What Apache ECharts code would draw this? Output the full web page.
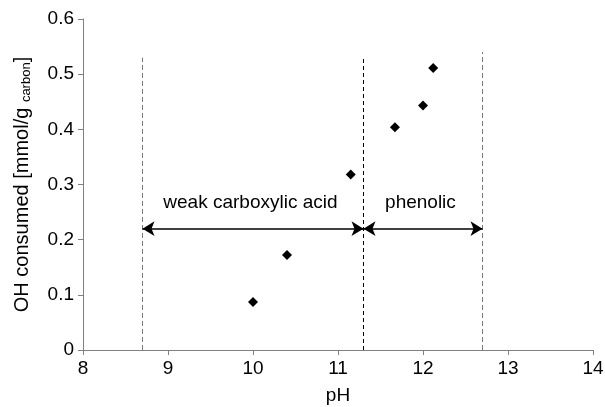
<!DOCTYPE html>
<html>
<head>
<meta charset="utf-8">
<script src="https://cdn.jsdelivr.net/npm/echarts@6/dist/echarts.min.js"></script>
<style>
  html, body { margin: 0; padding: 0; background: #fff; }
  #chart { width: 605px; height: 407px; }
</style>
</head>
<body>
<div id="chart"></div>
<script>
// measured points (pH, OH consumed)
const phValues = [10.0, 10.4, 11.15, 11.67, 12.0, 12.12]
const ohConsumed = [0.087, 0.172, 0.318, 0.404, 0.443, 0.511]

// region borders (dashed) and arrows
const borderPh = [8.7, 11.3, 12.7]
const borderTop = [0.53, 0.53, 0.54]
const arrowY = 0.22
const regionNames = ['weak carboxylic acid', 'phenolic']
const regionLabelPh = [9.97, 11.97]
const regionLabelY = 0.267

const font = 'Liberation Sans, Arial, sans-serif'
const chart = echarts.init(document.getElementById('chart'))

const borderLines = borderPh.map((x, i) => ([
  { coord: [x, 0], lineStyle: { color: i === 1 ? '#000' : '#777', type: i === 1 ? [4, 3] : [5, 3], width: 1 } },
  { coord: [x, borderTop[i]] }
]))

const arrows = [
  [{ coord: [borderPh[0], arrowY] }, { coord: [borderPh[1], arrowY] }],
  [{ coord: [borderPh[1], arrowY] }, { coord: [borderPh[2], arrowY] }]
]

chart.setOption({
  animation: false,
  textStyle: { fontFamily: font },
  grid: { left: 83, right: 12, top: 19, bottom: 57, outerBoundsMode: 'none', containLabel: false },
  xAxis: {
    type: 'value',
    min: 8,
    max: 14,
    interval: 1,
    name: 'pH',
    nameLocation: 'middle',
    nameGap: 36,
    nameTextStyle: { fontSize: 19, color: '#000', fontFamily: font },
    splitLine: { show: false },
    axisLine: { lineStyle: { color: '#808080' } },
    axisTick: { length: 5, lineStyle: { color: '#808080' } },
    axisLabel: { fontSize: 19, color: '#000', margin: 9, fontFamily: font }
  },
  yAxis: {
    type: 'value',
    min: 0,
    max: 0.6,
    interval: 0.1,
    name: 'OH consumed [mmol/g {sub|carbon}]',
    nameLocation: 'middle',
    nameGap: 50,
    nameTextStyle: {
      fontSize: 20,
      color: '#000',
      fontFamily: font,
      rich: {
        sub: { fontSize: 13, color: '#000', fontFamily: font, verticalAlign: 'bottom', padding: [9, 0, 0, 0] }
      }
    },
    splitLine: { show: false },
    axisLine: { show: true, lineStyle: { color: '#808080' } },
    axisTick: { show: true, length: 5, lineStyle: { color: '#808080' } },
    axisLabel: {
      fontSize: 19,
      color: '#000',
      margin: 9,
      fontFamily: font,
      formatter: (v) => (v === 0 ? '0' : v.toFixed(1))
    }
  },
  series: [
    {
      type: 'scatter',
      data: phValues.map((x, i) => [x, ohConsumed[i]]),
      symbol: 'diamond',
      symbolSize: 10,
      itemStyle: { color: '#000', opacity: 1 },
      markLine: {
        silent: true,
        symbol: ['none', 'none'],
        label: { show: false },
        data: borderLines
      }
    },
    {
      type: 'line',
      data: [],
      markLine: {
        silent: true,
        symbol: ['arrow', 'arrow'],
        symbolSize: [11, 12],
        label: { show: false },
        lineStyle: { color: '#000', type: 'solid', width: 1.5 },
        data: arrows
      }
    },
    {
      type: 'scatter',
      silent: true,
      symbolSize: 0,
      itemStyle: { opacity: 1 },
      data: regionNames.map((n, i) => ({ value: [regionLabelPh[i], regionLabelY], name: n })),
      label: {
        show: true,
        position: 'inside',
        formatter: (p) => p.name,
        fontSize: 19,
        color: '#000',
        opacity: 1,
        fontFamily: font
      }
    }
  ]
})
</script>
</body>
</html>
